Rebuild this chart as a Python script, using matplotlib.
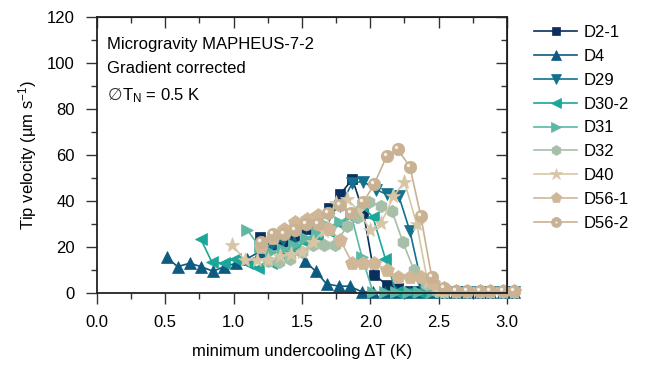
import matplotlib
matplotlib.use('Agg')
import matplotlib.pyplot as plt
from matplotlib.ticker import MultipleLocator
from matplotlib.transforms import offset_copy
from matplotlib.legend_handler import HandlerTuple
from matplotlib.lines import Line2D

plt.rcParams['font.family'] = ['Liberation Sans', 'DejaVu Sans']
plt.rcParams['font.size'] = 12
plt.rcParams['mathtext.fontset'] = 'custom'
plt.rcParams['mathtext.rm'] = 'Liberation Sans'
plt.rcParams['mathtext.it'] = 'Liberation Sans:italic'

# zero tail shared by the series that end in stagnation
tail = [2.54, 2.63, 2.71, 2.80, 2.88, 2.97, 3.05]

x_d2_1 = [1.19, 1.27, 1.36, 1.44, 1.53, 1.61, 1.70, 1.78, 1.87, 1.95, 2.03, 2.12, 2.20, 2.29, 2.37, 2.46] + tail
y_d2_1 = [24.5, 21, 22, 25, 28, 31, 37, 43, 49.5, 35, 8, 3.5, 2, 1, 1, 0.5, 0.5, 0.5, 0.5, 0.5, 0.5, 0.5, 0.5]

x_d4 = [0.51, 0.59, 0.68, 0.76, 0.85, 0.93, 1.02, 1.10, 1.19, 1.27, 1.36, 1.44, 1.52, 1.60, 1.68, 1.77,
        1.85, 1.94, 2.02, 2.11, 2.19, 2.28, 2.36, 2.45] + tail
y_d4 = [15.5, 11.5, 13, 11.5, 9.5, 11.5, 13, 15, 18, 22, 27, 22, 14, 9.5, 4, 3,
        3, 0.5, 0.5, 0.5, 0.5, 0.5, 0.5, 0.5, 0.5, 0.5, 0.5, 0.5, 0.5, 0.5, 0.5]

x_d29 = [1.27, 1.36, 1.44, 1.53, 1.61, 1.70, 1.78, 1.87, 1.95, 2.04, 2.12, 2.21, 2.29, 2.38, 2.46] + tail
y_d29 = [21, 23, 26, 29, 32, 34, 38, 48, 48.5, 45, 43, 42, 27, 3, 0.5, 0.5, 0.5, 0.5, 0.5, 0.5, 0.5, 0.5]

x_d30_2 = [0.76, 0.84, 0.93, 1.01, 1.10, 1.18, 1.27, 1.35, 1.44, 1.52, 1.61, 1.69, 1.78, 1.86, 1.94,
           2.02, 2.11, 2.19, 2.28, 2.36, 2.45]
y_d30_2 = [23.5, 13.5, 13, 15, 13, 11, 13, 16, 19, 22, 25, 27, 30, 33, 38,
           33, 15, 0.5, 0.5, 0.5, 0.5]

x_d31 = [1.10, 1.19, 1.27, 1.36, 1.44, 1.53, 1.61, 1.70, 1.78, 1.86, 1.94, 2.02, 2.11, 2.19, 2.28, 2.36, 2.45]
y_d31 = [27.5, 20, 18, 19, 21, 24, 26, 29, 31, 34, 15.5, 0.5, 0.5, 0.5, 0.5, 0.5, 0.5]

x_d32 = [1.25, 1.33, 1.41, 1.50, 1.58, 1.66, 1.74, 1.83, 1.91, 1.99, 2.08, 2.16, 2.24, 2.32, 2.41, 2.49] + tail
y_d32 = [14, 13.5, 15, 18, 21, 21, 21, 29, 33, 39.5, 38, 35.5, 22, 10, 4, 1,
         0.5, 0.5, 0.5, 0.5, 0.5, 0.5, 0.5]

x_d40 = [0.99, 1.08, 1.17, 1.25, 1.34, 1.42, 1.50, 1.58, 1.66, 1.75, 1.83, 1.91, 2.00, 2.08, 2.17, 2.25,
         2.34, 2.42, 2.50] + tail
y_d40 = [21, 14.5, 14.5, 14.5, 16, 17, 18, 22, 27, 39, 41, 36, 27.5, 30.5, 42, 48.5,
         30, 5, 1, 0.5, 0.5, 0.5, 0.5, 0.5, 0.5, 0.5]

x_d56_1 = [1.20, 1.29, 1.37, 1.45, 1.54, 1.62, 1.70, 1.78, 1.87, 1.95, 2.03, 2.12, 2.20, 2.29, 2.37, 2.46] + tail
y_d56_1 = [20, 24, 28, 31, 32, 34, 28, 23, 13, 13, 13, 10, 7, 7, 7, 4.5,
           2, 1, 1, 1, 1, 1, 1]

x_d56_2 = [1.20, 1.29, 1.37, 1.45, 1.53, 1.62, 1.69, 1.78, 1.86, 1.95, 2.03, 2.12, 2.20, 2.29, 2.37, 2.45] + tail
y_d56_2 = [22, 25.5, 25.5, 27.5, 30, 30, 35, 38.5, 35, 39.5, 47.5, 59.5, 62.5, 55, 33.5, 7,
           2, 1, 1, 1, 1, 1, 1]

series = [
    ('D2-1', x_d2_1, y_d2_1, 's', 7, '#0a2f5c'),
    ('D4', x_d4, y_d4, '^', 9, '#0d5b80'),
    ('D29', x_d29, y_d29, 'v', 9, '#13708f'),
    ('D30-2', x_d30_2, y_d30_2, '<', 9, '#1aa698'),
    ('D31', x_d31, y_d31, '>', 9, '#5cb8a4'),
    ('D32', x_d32, y_d32, 'h', 9, '#a6bfa9'),
    ('D40', x_d40, y_d40, '*', 11, '#d7c6a6'),
    ('D56-1', x_d56_1, y_d56_1, 'p', 10, '#cfb797'),
    ('D56-2', x_d56_2, y_d56_2, 'o', 9, '#c9b293'),
]

fig = plt.figure(figsize=(6.49, 3.71), dpi=100)
ax = fig.add_axes([0.1495, 0.21, 0.6315, 0.744])

handles = []
for name, xs, ys, m, ms, c in series:
    ln, = ax.plot(xs, ys, marker=m, ms=ms, color=c, lw=1.2, mec=c, mew=0.5,
                  clip_on=False, label=name)
    handles.append(ln)

# white highlight on the sphere markers
shine = offset_copy(ax.transData, fig=fig, x=-2, y=2, units='dots')
ax.plot(x_d56_2, y_d56_2, ls='none', marker='o', ms=2.5, color='#f4efe8',
        mec='none', transform=shine, clip_on=False)
shine_h = Line2D([], [], ls='none', marker='o', ms=2.0, color='#f4efe8', mec='none')
handles[-1] = (handles[-1], shine_h)

ax.set_xlim(0, 3.0)
ax.set_ylim(0, 120)
ax.xaxis.set_major_locator(MultipleLocator(0.5))
ax.xaxis.set_minor_locator(MultipleLocator(0.25))
ax.yaxis.set_major_locator(MultipleLocator(20))
ax.yaxis.set_minor_locator(MultipleLocator(10))
ax.xaxis.set_major_formatter(plt.FormatStrFormatter('%.1f'))

for s in ax.spines.values():
    s.set_linewidth(1.3)
    s.set_color('#222222')
ax.tick_params(which='both', direction='out', width=1.0, color='#333333', pad=8)
ax.tick_params(which='major', length=8)
ax.tick_params(which='minor', length=4)
# inward ticks on top and right
axt = ax.secondary_xaxis('top')
axt.xaxis.set_major_locator(MultipleLocator(0.5))
axt.xaxis.set_minor_locator(MultipleLocator(0.25))
axt.tick_params(which='both', direction='in', width=1.0, labeltop=False, color='#333333')
axt.tick_params(which='major', length=8)
axt.tick_params(which='minor', length=4)
axr = ax.secondary_yaxis('right')
axr.yaxis.set_major_locator(MultipleLocator(20))
axr.yaxis.set_minor_locator(MultipleLocator(10))
axr.tick_params(which='both', direction='in', width=1.0, labelright=False, color='#333333')
axr.tick_params(which='major', length=8)
axr.tick_params(which='minor', length=4)

ax.set_xlabel('minimum undercooling ΔT (K)', labelpad=10)
ax.set_ylabel('Tip velocity (µm s$^{-1}$)', labelpad=6)

ax.text(0.025, 0.899, 'Microgravity MAPHEUS-7-2', transform=ax.transAxes, va='center')
ax.text(0.025, 0.815, 'Gradient corrected', transform=ax.transAxes, va='center')
ax.text(0.025, 0.717, '∅', transform=ax.transAxes, va='center',
        family='DejaVu Sans', fontsize=12, color='#333333')
after = offset_copy(ax.transAxes, fig=fig, x=15, y=0, units='dots')
ax.text(0.025, 0.717, 'T$_\\mathrm{N}$ = 0.5 K', transform=after, va='center')

ax.legend(handles, [s[0] for s in series], loc='upper left', bbox_to_anchor=(1.05, 0.995),
          frameon=False, handlelength=2.6, handletextpad=0.4, labelspacing=0.53,
          borderaxespad=0, markerscale=0.8,
          handler_map={tuple: HandlerTuple(ndivide=1, pad=0)})

fig.savefig('out.png', dpi=100)
